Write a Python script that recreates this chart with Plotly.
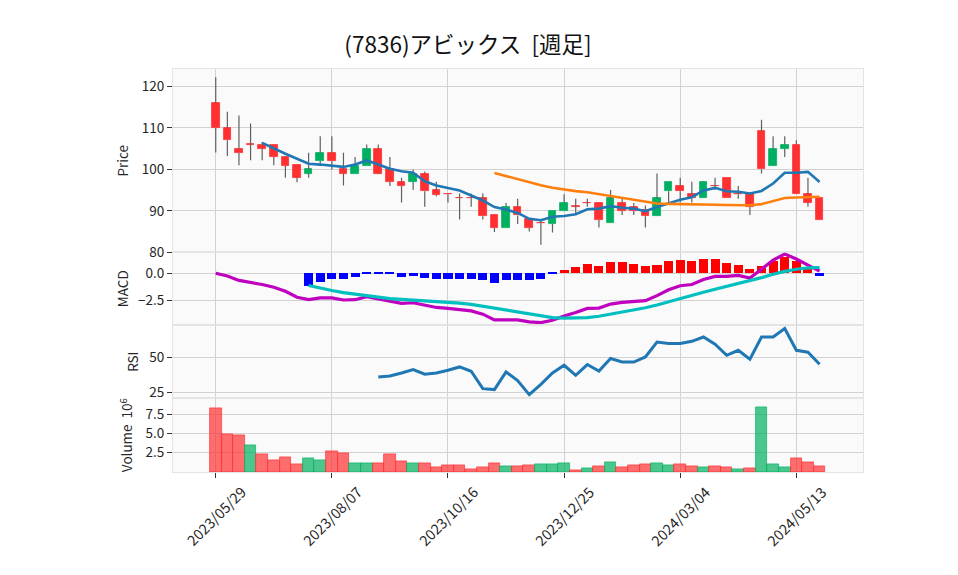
import plotly.graph_objects as go
from plotly.subplots import make_subplots

# ---------------- data ----------------
tick_idx = [0, 10, 20, 30, 40, 50]
tick_labels = ["2023/05/29", "2023/08/07", "2023/10/16", "2023/12/25", "2024/03/04", "2024/05/13"]

opens = [116.1, 110, 105, 106, 106, 106, 103, 101, 99, 102, 104, 100, 99, 100.8, 105, 100, 97, 97, 99, 95,
         94, 93, 93, 93, 89, 85.9, 91, 88, 87, 86.8, 90, 91, 91.9, 92, 87, 92, 91, 90.3, 88.7, 94.7,
         96, 94, 93, 96, 98, 94, 94, 109.2, 100.8, 105, 106, 94, 93]
highs = [122.2, 113.9, 113, 111.1, 106.6, 106, 103.1, 101, 104, 108, 108, 104, 103, 106, 106, 103, 98, 100, 99.5, 97,
         94, 94.2, 94.2, 94.2, 89, 91.9, 92.9, 88, 87.9, 90, 94, 92.9, 92.9, 92, 95, 92.9, 91.9, 91.3, 99, 97,
         98, 97, 97, 98, 98, 96, 94, 112, 108, 108, 107, 98, 93]
lows = [104.1, 103.2, 101, 102.2, 102.2, 101, 98, 96.9, 98, 100.8, 100, 96.1, 99, 100.8, 98.9, 96, 92, 95, 91, 93.5,
        92, 87.9, 91, 87.9, 84.9, 85.9, 86.8, 85, 81.8, 84.8, 90, 89, 91, 86, 87, 89, 89, 86, 88.7, 92,
        92, 92, 93, 95, 93, 92.9, 89, 99, 100.8, 103, 94, 91, 87.8]
closes = [110, 107, 104, 106, 105, 103, 100.8, 98, 100, 104, 102, 99, 100.8, 105, 99, 97, 96, 99, 94.7, 93.8,
          94, 93, 93, 88.7, 85.9, 91, 88.9, 85.9, 87, 90, 92, 91, 91.9, 87.8, 93, 90, 90, 88.7, 93, 97,
          94.7, 93, 97, 96, 93, 94, 91, 100, 105, 106, 94, 92, 87.8]

ma5 = [None, None, None, None, 106.4, 105.0, 103.76, 102.56, 101.36, 101.16, 100.96, 100.6, 101.16, 102.16,
       101.16, 100.16, 99.56, 99.2, 97.14, 96.1, 95.5, 94.9, 93.7, 92.5, 90.92, 90.32, 89.5, 88.08, 87.74,
       88.56, 88.76, 89.18, 90.38, 90.54, 91.14, 90.74, 90.54, 89.9, 90.94, 91.74, 92.68, 93.28, 94.94,
       95.54, 94.74, 94.6, 94.2, 94.8, 96.6, 99.2, 99.2, 99.4, 96.96]
ma25 = [None] * 24 + [99.15, 98.39, 97.66, 96.94, 96.18, 95.58, 95.14, 94.75, 94.5, 94.02, 93.58, 93.1,
                      92.74, 92.25, 91.77, 91.69, 91.6, 91.48, 91.4, 91.45, 91.42, 91.42, 91.34, 91.62,
                      92.27, 93.08, 93.2, 93.32, 93.4]

macd = [0.0, -0.25, -0.65, -0.8, -1.02, -1.27, -1.64, -2.19, -2.41, -2.25, -2.25, -2.44, -2.41, -2.13,
        -2.35, -2.5, -2.75, -2.69, -2.9, -3.12, -3.21, -3.33, -3.43, -3.73, -4.26, -4.25, -4.25, -4.44,
        -4.5, -4.29, -3.89, -3.58, -3.21, -3.18, -2.81, -2.65, -2.56, -2.5, -2.04, -1.51, -1.14, -1.02,
        -0.56, -0.28, -0.28, -0.19, -0.43, 0.43, 1.2, 1.76, 1.3, 0.75, 0.2]
signal = [None] * 8 + [-1.11, -1.36, -1.57, -1.76, -1.91, -2.07, -2.19, -2.31, -2.38, -2.44, -2.5, -2.56,
                       -2.62, -2.72, -2.84, -3.02, -3.21, -3.36, -3.52, -3.73, -3.92, -4.04, -4.1, -4.1,
                       -4.04, -3.92, -3.73, -3.58, -3.36, -3.15, -2.9, -2.59, -2.28, -2.01, -1.73, -1.45,
                       -1.2, -0.96, -0.71, -0.4, -0.09, 0.18, 0.37, 0.49, 0.53]
hist = [None] * 8 + [-1.24, -0.86, -0.55, -0.55, -0.4, -0.05, -0.12, -0.15, -0.37, -0.31, -0.45, -0.55,
                     -0.57, -0.58, -0.58, -0.68, -0.95, -0.7, -0.62, -0.65, -0.6, -0.15, 0.3, 0.53, 0.83,
                     0.65, 0.96, 0.96, 0.83, 0.65, 0.74, 1.11, 1.2, 1.11, 1.3, 1.3, 0.9, 0.74, 0.34, 0.65,
                     1.05, 1.45, 1.05, 0.35, -0.3]

rsi = [None] * 14 + [35.9, 36.6, 38.8, 41.2, 37.9, 38.8, 40.7, 43.1, 40.0, 27.6, 26.9, 39.5, 33.3, 23.3,
                     30.7, 38.8, 44.3, 37.1, 44.8, 40.2, 49.1, 46.6, 46.6, 50.2, 60.9, 59.8, 59.8, 61.4,
                     64.5, 59.3, 51.4, 55.0, 48.6, 64.5, 64.5, 70.5, 55.0, 53.6, 45.0]

volume_m = [8.3, 4.88, 4.75, 3.5, 2.25, 1.5, 1.96, 1.0, 1.75, 1.5, 2.63, 2.46, 1.13, 1.13, 1.13, 2.25,
            1.38, 1.13, 1.13, 0.63, 0.88, 0.88, 0.38, 0.63, 1.13, 0.71, 0.71, 0.88, 1.0, 1.0, 1.13, 0.25,
            0.5, 0.71, 1.25, 0.58, 0.88, 1.0, 1.13, 0.88, 1.0, 0.71, 0.63, 0.75, 0.58, 0.38, 0.5, 8.42,
            1.0, 0.63, 1.75, 1.25, 0.71]
volume_up = [0, 0, 0, 1, 0, 0, 0, 0, 1, 1, 0, 0, 1, 1, 0, 0, 0, 1, 0, 0, 0, 0, 0, 0, 0, 1, 0, 0, 1, 1,
             1, 0, 1, 0, 1, 0, 0, 0, 1, 1, 0, 0, 1, 0, 0, 1, 0, 1, 1, 1, 0, 0, 0]

# ---------------- styling ----------------
UP = "#00b060"
DN = "#fe3032"
UP_V = "rgba(0,176,96,0.7)"
DN_V = "rgba(254,48,50,0.7)"
GRID = "#d2d2d2"
FONT = "Noto Sans CJK JP"
TXT = "#262626"

n = len(closes)
x = list(range(n))

fig = make_subplots(rows=4, cols=1, shared_xaxes=True, vertical_spacing=0)

# wicks (drawn above and below the body so they never cross it)
wx, wy = [], []
for i in x:
    top = max(opens[i], closes[i])
    bot = min(opens[i], closes[i])
    if highs[i] > top:
        wx += [i, i, None]
        wy += [top, highs[i], None]
    if lows[i] < bot:
        wx += [i, i, None]
        wy += [lows[i], bot, None]
fig.add_trace(go.Scatter(x=wx, y=wy, mode="lines", line=dict(color="#606060", width=1.2),
                         hoverinfo="skip"), row=1, col=1)

body_base = [min(o, c) for o, c in zip(opens, closes)]
body_h = [max(abs(c - o), 0.1) for o, c in zip(opens, closes)]
body_col = [UP if c > o else DN for o, c in zip(opens, closes)]
fig.add_trace(go.Bar(x=x, y=body_h, base=body_base, width=0.66,
                     marker=dict(color=body_col, line=dict(color=body_col, width=0.8))),
              row=1, col=1)

fig.add_trace(go.Scatter(x=x, y=ma5, mode="lines", line=dict(color="#1f77b4", width=2.6)), row=1, col=1)
fig.add_trace(go.Scatter(x=x, y=ma25, mode="lines", line=dict(color="#ff7f0e", width=2.6)), row=1, col=1)

# MACD panel
hist_col = ["#ff0000" if (h is not None and h > 0) else "#0000ff" for h in hist]
fig.add_trace(go.Bar(x=x, y=hist, width=0.78, marker=dict(color=hist_col, line=dict(width=0))),
              row=2, col=1)
fig.add_trace(go.Scatter(x=x, y=macd, mode="lines", line=dict(color="#bf00bf", width=3.2)), row=2, col=1)
fig.add_trace(go.Scatter(x=x, y=signal, mode="lines", line=dict(color="#00bfbf", width=3.2)), row=2, col=1)

# RSI panel
fig.add_trace(go.Scatter(x=x, y=rsi, mode="lines", line=dict(color="#1f77b4", width=3)), row=3, col=1)

# Volume panel
vcol = [UP_V if u else DN_V for u in volume_up]
vedge = ["rgba(0,176,96,0.85)" if u else "rgba(254,48,50,0.85)" for u in volume_up]
fig.add_trace(go.Bar(x=x, y=volume_m, width=1.0, marker=dict(color=vcol, line=dict(color=vedge, width=0.8))),
              row=4, col=1)

xr = [-3.68, 55.74]
tickfont = dict(family=FONT, size=13.5, color=TXT)
for r in range(1, 5):
    fig.update_xaxes(row=r, col=1, range=xr, tickvals=tick_idx, ticktext=tick_labels,
                     showgrid=True, gridcolor=GRID, gridwidth=1.2, zeroline=False,
                     showline=True, linecolor="#e4e4e4", linewidth=1, mirror=True,
                     showticklabels=False, ticks="outside" if r == 4 else "",
                     ticklen=5, tickcolor="#333333", tickfont=tickfont)

# date labels rotated 45 degrees and centred under their ticks (matplotlib style)
for ti, tl in zip(tick_idx, tick_labels):
    fig.add_annotation(x=ti, xref="x4", y=-0.016, yref="paper", text=tl, showarrow=False,
                       textangle=-45, xanchor="center", yanchor="top",
                       font=dict(family=FONT, size=14.5, color=TXT))

common_y = dict(showgrid=True, gridcolor=GRID, gridwidth=1.2, zeroline=False,
                showline=True, linecolor="#e4e4e4", linewidth=1, mirror=True,
                ticks="outside", ticklen=5, tickcolor="#333333", tickfont=tickfont)

# the page adds an 8 px body margin, so the figure is laid out 8 px up/left
fig.update_layout(
    width=958, height=575,
    margin=dict(l=165, r=103, t=61, b=111),
    plot_bgcolor="#fafafa", paper_bgcolor="white",
    showlegend=False, barmode="overlay", bargap=0,
    title=dict(text="(7836)アビックス \u00a0[週足]", x=460 / 958, xanchor="center",
               y=1 - 37 / 575, yanchor="middle",
               font=dict(family=FONT, size=22.5, color="#111111")),
    yaxis=dict(domain=[0.5447, 1.0], range=[79.95, 124.22], tickvals=[80, 90, 100, 110, 120],
               title=dict(text="Price", standoff=10, font=dict(family=FONT, size=13.5, color=TXT)),
               **common_y),
    yaxis2=dict(domain=[0.3648, 0.5447], range=[-4.72, 1.9], tickvals=[-2.5, 0.0],
                ticktext=["\u22122.5", "0.0"],
                title=dict(text="MACD", standoff=6, font=dict(family=FONT, size=13.5, color=TXT)),
                **common_y),
    yaxis3=dict(domain=[0.1829, 0.3648], range=[20.7, 73.07], tickvals=[25, 50],
                title=dict(text="RSI", standoff=7, font=dict(family=FONT, size=13.5, color=TXT)),
                **common_y),
    yaxis4=dict(domain=[0.0, 0.1829], range=[0, 9.55], tickvals=[2.5, 5.0, 7.5],
                ticktext=["2.5", "5.0", "7.5"],
                title=dict(text="Volume\u00a0\u00a010<sup>6</sup>", standoff=9,
                           font=dict(family=FONT, size=13.5, color=TXT)),
                **common_y),
)

fig.write_html("out.html")
